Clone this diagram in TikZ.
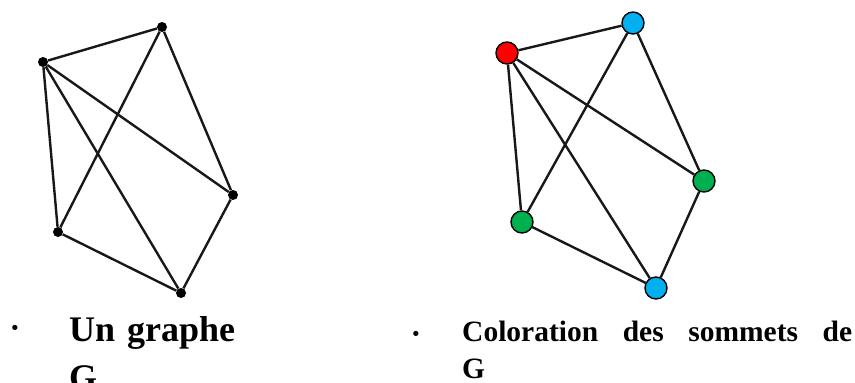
\documentclass[tikz,border=0pt]{standalone}
\usepackage{fontspec}
\setmainfont{Liberation Serif}
\usepackage{tikz}
\usetikzlibrary{positioning}
\definecolor{vred}{RGB}{255,0,0}
\definecolor{vblue}{RGB}{0,176,240}
\definecolor{vgreen}{RGB}{0,176,80}
\definecolor{linkgray}{RGB}{24,24,24}
\tikzset{
  bvtx/.style ={circle, fill=black, inner sep=0pt, minimum size=10pt},
  cvtx/.style ={circle, draw=black, line width=1.4pt, inner sep=0pt, minimum size=22pt},
  link/.style ={line width=2.4pt, draw=linkgray},
  cap1/.style ={font=\fontsize{36}{48}\selectfont\bfseries, anchor=base west,
                inner sep=0pt, text width=220pt, align=left},
  cap2/.style ={font=\fontsize{29.5}{37}\selectfont\bfseries, anchor=base west,
                inner sep=0pt, text width=390pt, align=left},
  bul/.style  ={inner sep=0pt, anchor=center, font=\fontsize{32}{32}\selectfont\bfseries},
}
\begin{document}
\begin{tikzpicture}[x=1pt, y=-1pt]
  \useasboundingbox (0,0) rectangle (855,383);
  % graphe G
  \node[bvtx] (l1) at (43,62)  {};
  \node[bvtx] (l2) at (162,27) {};
  \node[bvtx] (l3) at (233,195) {};
  \node[bvtx] (l4) at (181,293) {};
  \node[bvtx] (l5) at (58,232) {};
  \draw[link] (l1)--(l2); \draw[link] (l1)--(l3); \draw[link] (l1)--(l4);
  \draw[link] (l1)--(l5); \draw[link] (l2)--(l3); \draw[link] (l2)--(l5);
  \draw[link] (l3)--(l4); \draw[link] (l5)--(l4);
  % coloration
  \node[cvtx, fill=vred]   (r1) at (507,53)  {};
  \node[cvtx, fill=vblue]  (r2) at (633,23)  {};
  \node[cvtx, fill=vgreen] (r3) at (704,181) {};
  \node[cvtx, fill=vblue]  (r4) at (656,288) {};
  \node[cvtx, fill=vgreen] (r5) at (522,222) {};
  \draw[link] (r1)--(r2); \draw[link] (r1)--(r3); \draw[link] (r1)--(r4);
  \draw[link] (r1)--(r5); \draw[link] (r2)--(r3); \draw[link] (r2)--(r5);
  \draw[link] (r3)--(r4); \draw[link] (r5)--(r4);
  % legendes
  \node[bul] (b1) at (15,332) {·};
  \node[cap1] (t1) at (69,341) {Un graphe\\G};
  \node[bul] (b2) at (416,338) {·};
  \node[cap2] (t2) at (462,341) {Coloration\hfill des\hfill sommets\hfill de\\G};
\end{tikzpicture}
\end{document}
